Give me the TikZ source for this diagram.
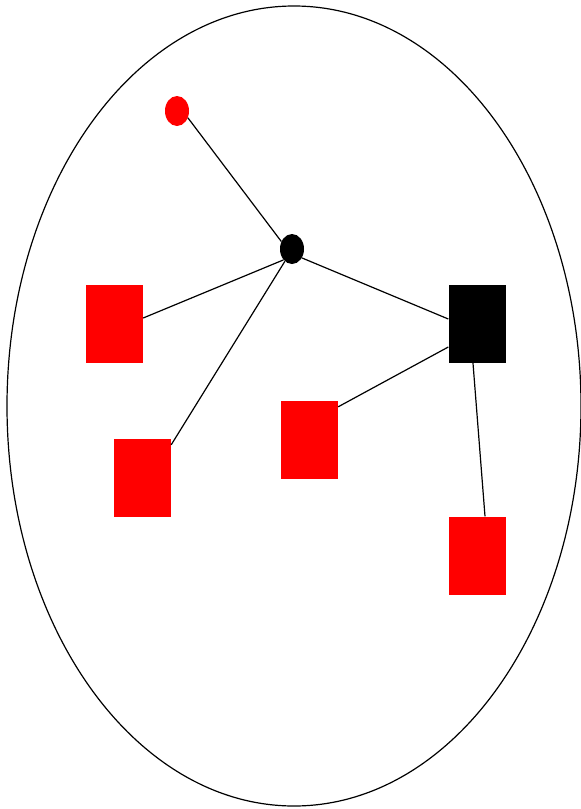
\documentclass[tikz,border=0pt]{standalone}
\usetikzlibrary{shapes.geometric}
\tikzset{
  leafbox/.style={rectangle, fill=red, inner sep=0pt, minimum width=57pt, minimum height=78pt},
  hubbox/.style={rectangle, fill=black, inner sep=0pt, minimum width=57pt, minimum height=78pt},
  dotnode/.style={ellipse, inner sep=0pt, minimum width=24pt, minimum height=30pt},
  link/.style={black, line width=1.2pt}
}
\begin{document}
\begin{tikzpicture}[x=1pt, y=-1pt]
\useasboundingbox (0,0) rectangle (581,809);
% outer ellipse
\draw[line width=1.2pt] (294,406) ellipse [x radius=287pt, y radius=400pt];

% dots
\node[dotnode, fill=red] (top) at (177,111) {};
\node[dotnode, fill=black] (hub) at (292,249) {};

% boxes
\node[leafbox] (left) at (114.5,324) {};
\node[leafbox] (lower) at (142.5,478) {};
\node[hubbox] (right) at (477,324) {};
\node[leafbox] (mid) at (309.5,440) {};
\node[leafbox] (bottom) at (477,555.5) {};

% links (end points as in the original layout)
\draw[link] (top.-32) -- (hub.145);
\draw[link] (hub.232) -- ([yshift=6pt]left.east);
\draw[link] (hub.240) -- ([yshift=-6pt]lower.north east);
\draw[link] (hub.-42) -- ([yshift=5pt]right.west);
\draw[link] ([yshift=-23pt]right.west) -- ([yshift=-6pt]mid.north east);
\draw[link] ([xshift=-4pt]right.south) -- ([xshift=8pt]bottom.north);
\end{tikzpicture}
\end{document}
